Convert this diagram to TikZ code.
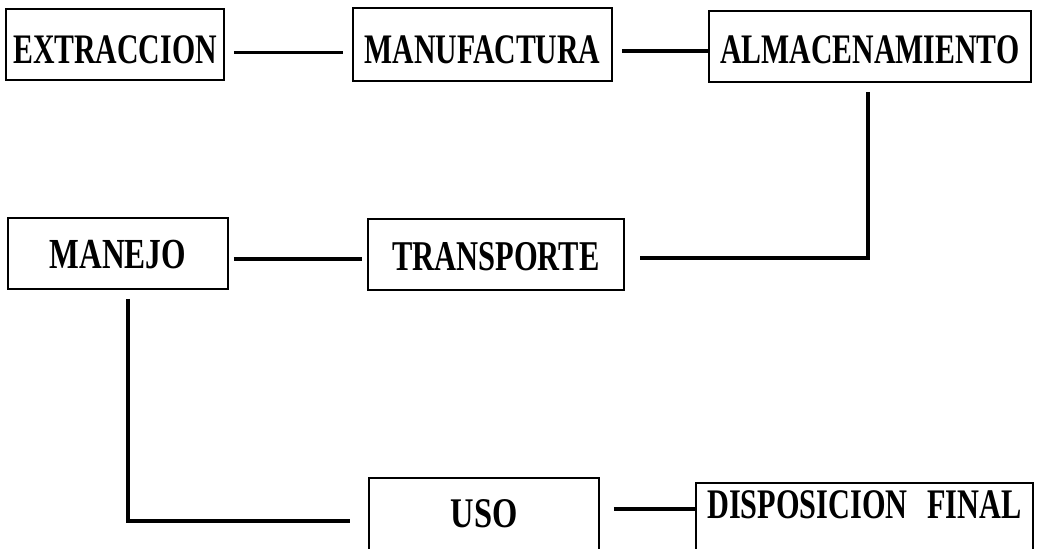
\documentclass[tikz,border=0pt]{standalone}
\usepackage{fontspec}
\usepackage{graphicx}
\setmainfont{Liberation Serif}
\usetikzlibrary{calc}
\newcommand{\tallbox}[2][1.41]{\scalebox{1}[#1]{#2}}
\begin{document}
\begin{tikzpicture}[x=1pt,y=-1pt,
  box/.style={draw, line width=1.9pt, rectangle, inner sep=0pt, anchor=north west,
    font=\bfseries\fontsize{29.8}{30}\selectfont},
  conn/.style={line width=3.8pt}]
\useasboundingbox[fill=white] (0,0) rectangle (1042,549);
\node[box, minimum width=218pt, text height=55pt, text depth=16pt] (ext) at (5,8) {\tallbox{EXTRACCION}};
\node[box, minimum width=259pt, text height=56pt, text depth=17pt] (man) at (352,7) {\tallbox{MANUFACTURA}};
\node[box, minimum width=322pt, text height=53pt, text depth=18pt] (alm) at (708,10) {\tallbox{ALMACENAMIENTO}};
\node[box, minimum width=220pt, text height=51pt, text depth=20pt, font=\bfseries\fontsize{31.5}{32}\selectfont] (mnj) at (7,217) {\tallbox[1.36]{MANEJO}};
\node[box, minimum width=256pt, text height=52pt, text depth=19pt, font=\bfseries\fontsize{30.5}{31}\selectfont] (tra) at (367,218) {\tallbox[1.39]{TRANSPORTE}};
\node[box, minimum width=230pt, text height=50pt, text depth=33pt, font=\bfseries\fontsize{32.5}{33}\selectfont] (uso) at (368,477) {\tallbox[1.3]{USO}};
\node[box, minimum width=337pt, text height=36pt, text depth=42pt, font=\bfseries\fontsize{30.3}{31}\selectfont] (dis) at (695,482) {\tallbox[1.39]{DISPOSICION\hspace{0.4em} FINAL}};
% connectors
\draw[conn, shorten <=9pt, shorten >=9pt] ([yshift=-8pt]ext.east) -- ([yshift=-8pt]ext.east -| man.west);
\draw[conn, shorten <=9pt] ([yshift=-6.5pt]man.east) -- ([yshift=-6.5pt]man.east -| alm.west);
\draw[conn, shorten >=15pt] ([xshift=-2pt]alm.south) ++(0,9) |- ([yshift=-3.5pt]tra.east);
\draw[conn, shorten <=5pt, shorten >=5pt] ([yshift=-5.5pt]mnj.east) -- ([yshift=-5.5pt]mnj.east -| tra.west);
\draw[conn, shorten >=18pt] ([xshift=10pt]mnj.south) ++(0,9) |- ([yshift=-1.5pt]uso.west);
\draw[conn, shorten <=14pt] ([yshift=10.5pt]uso.east) -- ([yshift=10.5pt]uso.east -| dis.west);
\end{tikzpicture}
\end{document}
